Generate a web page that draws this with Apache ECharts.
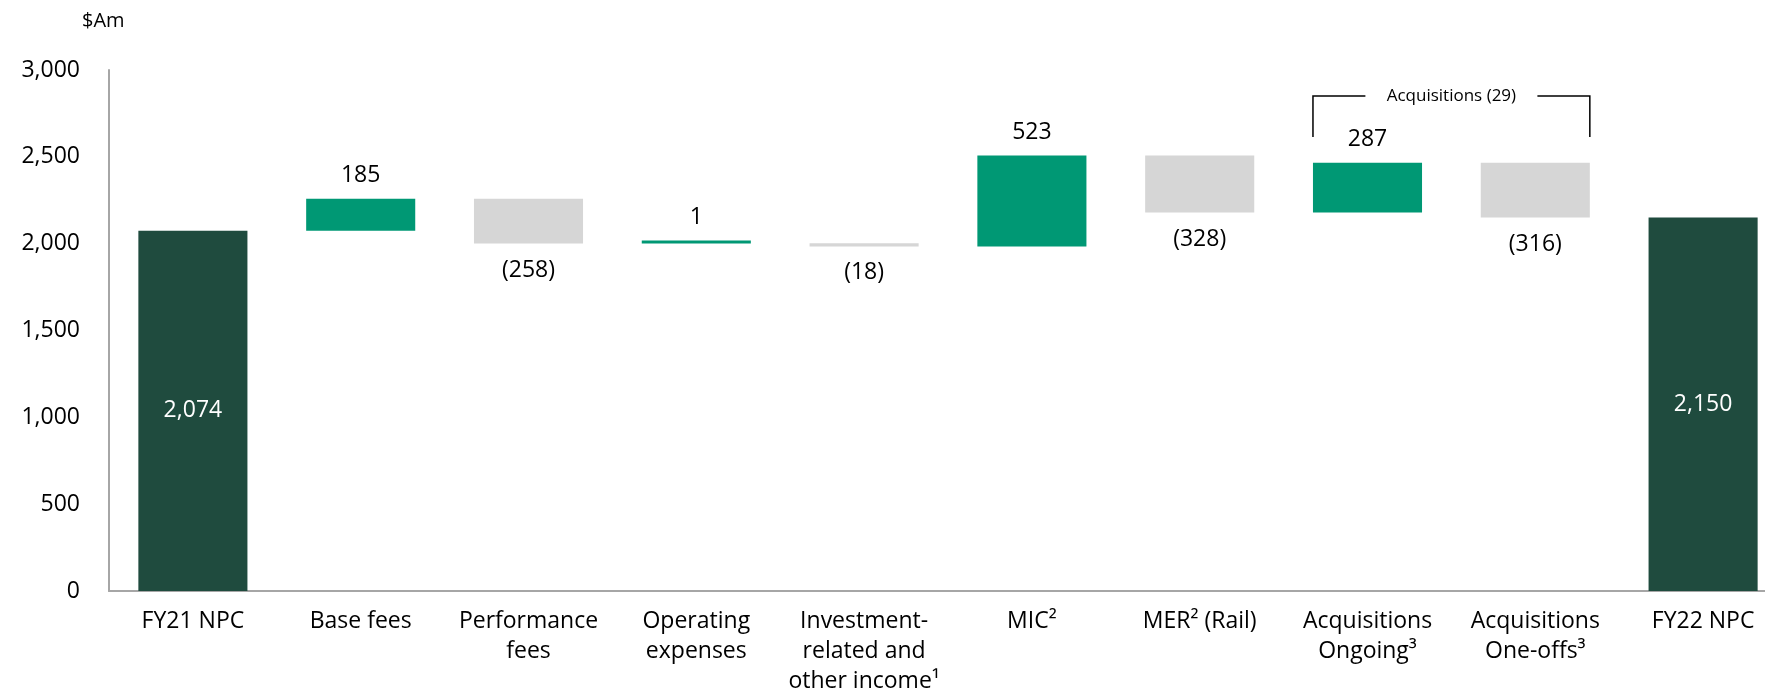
<!DOCTYPE html>
<html>
<head>
<meta charset="utf-8">
<script src="https://cdn.jsdelivr.net/npm/echarts@6/dist/echarts.min.js"></script>
<style>
  html, body { margin: 0; padding: 0; background: #fff; }
  #chart { width: 1765px; height: 691px; }
</style>
</head>
<body>
<div id="chart"></div>
<script>
// data
var categories = [
  'FY21 NPC', 'Base fees', 'Performance\nfees', 'Operating\nexpenses',
  'Investment-\nrelated and\nother income¹', 'MIC²', 'MER² (Rail)',
  'Acquisitions\nOngoing³', 'Acquisitions\nOne-offs³', 'FY22 NPC'
]
var totals = [2074, null, null, null, null, null, null, null, null, 2150]
var changes = [null, 185, -258, 1, -18, 523, -328, 287, -316, null]
var yTicks = [0, 500, 1000, 1500, 2000, 2500, 3000]
var acqIndexes = [7, 8]

var FONT = "'Open Sans', sans-serif"
var DARK = '#1f4b3e'
var GREEN = '#009874'
var GREY = '#d6d6d6'

function fmt (v) {
  return Math.abs(v).toLocaleString('en-US')
}

// waterfall: invisible base + visible piece
var baseData = []
var pieceData = []
var running = totals[0]
for (var i = 0; i < categories.length; i++) {
  if (totals[i] !== null) {
    baseData.push(0)
    pieceData.push({
      value: totals[i],
      itemStyle: { color: DARK },
      label: { show: true, position: 'inside', color: '#fff', formatter: fmt(totals[i]) }
    })
    running = totals[i]
  } else {
    var start = running
    var end = running + changes[i]
    baseData.push(Math.min(start, end))
    var up = changes[i] >= 0
    pieceData.push({
      value: Math.abs(changes[i]),
      itemStyle: { color: up ? GREEN : GREY },
      label: {
        show: true,
        position: up ? 'top' : 'bottom',
        distance: up ? 12 : 15,
        color: '#000',
        formatter: up ? fmt(changes[i]) : '(' + fmt(changes[i]) + ')'
      }
    })
    running = end
  }
}

var chart = echarts.init(document.getElementById('chart'))
chart.setOption({
  animation: false,
  textStyle: { fontFamily: FONT },
  title: {
    text: '$Am',
    left: 77,
    top: 6,
    textStyle: { fontFamily: FONT, fontSize: 20, fontWeight: 'normal', color: '#000' }
  },
  grid: { left: 109, width: 1678, top: 70, height: 521, containLabel: false, outerBoundsMode: 'none' },
  xAxis: {
    type: 'category',
    data: categories,
    axisLine: { lineStyle: { color: '#a6a6a6', width: 2 } },
    axisTick: { show: false },
    axisLabel: {
      interval: 0,
      margin: 15,
      fontSize: 23,
      lineHeight: 30,
      color: '#000',
      fontFamily: FONT
    }
  },
  yAxis: {
    type: 'value',
    min: yTicks[0],
    max: yTicks[yTicks.length - 1],
    interval: yTicks[1] - yTicks[0],
    splitLine: { show: false },
    axisTick: { show: false },
    axisLine: { show: true, lineStyle: { color: '#a6a6a6', width: 2 } },
    axisLabel: {
      margin: 29,
      fontSize: 23,
      color: '#000',
      fontFamily: FONT,
      formatter: function (v) { return v.toLocaleString('en-US') }
    }
  },
  series: [
    {
      name: 'base',
      type: 'bar',
      stack: 'w',
      barWidth: '65%',
      itemStyle: { color: 'transparent' },
      emphasis: { disabled: true },
      data: baseData
    },
    {
      name: 'value',
      type: 'bar',
      stack: 'w',
      barWidth: '65%',
      barMinHeight: 3,
      label: { fontSize: 23, fontFamily: FONT },
      data: pieceData
    }
  ]
})

// bracket over the two acquisition bars
var xa = chart.convertToPixel({ xAxisIndex: 0 }, acqIndexes[0])
var xb = chart.convertToPixel({ xAxisIndex: 0 }, acqIndexes[1])
var half = (xb - xa) * 0.65 / 2
var left = xa - half
var right = xb + half
var mid = (left + right) / 2
var acqNet = changes[acqIndexes[0]] + changes[acqIndexes[1]]
var acqText = 'Acquisitions ' + (acqNet < 0 ? '(' + fmt(acqNet) + ')' : fmt(acqNet))
var yTop = 96
var yBot = 137
var gap = 86
chart.setOption({
  graphic: [
    {
      type: 'polyline',
      shape: { points: [[left, yBot], [left, yTop], [mid - gap, yTop]] },
      style: { stroke: '#000', lineWidth: 1.5, fill: null }
    },
    {
      type: 'polyline',
      shape: { points: [[mid + gap, yTop], [right, yTop], [right, yBot]] },
      style: { stroke: '#000', lineWidth: 1.5, fill: null }
    },
    {
      type: 'text',
      x: mid,
      y: yTop,
      style: {
        text: acqText,
        fontFamily: FONT,
        fontSize: 17,
        fill: '#000',
        align: 'center',
        verticalAlign: 'middle'
      }
    }
  ]
})
</script>
</body>
</html>
